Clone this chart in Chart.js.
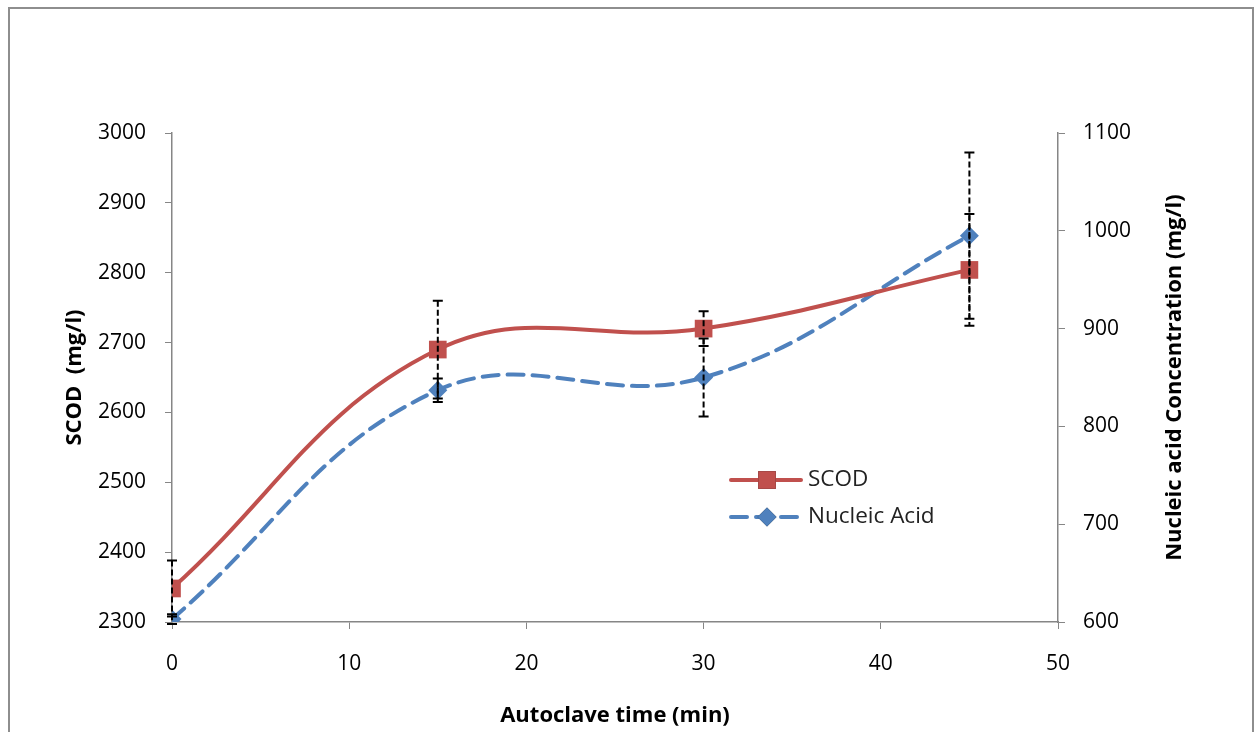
<!DOCTYPE html>
<html><head><meta charset="utf-8">
<script src="https://cdn.jsdelivr.net/npm/chart.js@4/dist/chart.umd.min.js"></script>
<style>
html,body{margin:0;padding:0;background:#fff;overflow:hidden;width:1257px;height:732px;}
#frame{position:absolute;left:8px;top:7px;width:1246px;height:780px;border:2px solid #8e8e8e;box-sizing:border-box;}
#wrap{position:absolute;left:0;top:0;width:1257px;height:732px;}
</style></head>
<body>
<div id="frame"></div>
<div id="wrap"><canvas id="c" width="1257" height="732"></canvas></div>
<script>
const times = [0, 15, 30, 45];
const scod = [2348, 2690, 2720, 2804];
const scodErr = [40, 70, 25, 80];
const nucleic = [603, 837, 850, 995];
const nucleicErr = [5, 12, 40, 85];
const xTicks = [0, 10, 20, 30, 40, 50];
const leftTicks = [2300, 2400, 2500, 2600, 2700, 2800, 2900, 3000];
const rightTicks = [600, 700, 800, 900, 1000, 1100];
const seriesNames = ['SCOD', 'Nucleic Acid'];
const xTitle = 'Autoclave time (min)';
const leftTitle = 'SCOD  (mg/l)';
const rightTitle = 'Nucleic acid Concentration (mg/l)';

const RED = '#C0504D', BLUE = '#4F81BD', AXIS = '#868686';
const FONT = "'Open Sans', 'Liberation Sans', sans-serif";
const FS = 21, TFS = 22, LFS = 22.5;

const errorBars = {
  id: 'errorBars',
  afterDatasetsDraw(chart) {
    const ctx = chart.ctx;
    const xs = chart.scales.x;
    const sets = [[scod, scodErr, chart.scales.y], [nucleic, nucleicErr, chart.scales.y1]];
    ctx.save();
    ctx.strokeStyle = '#000';
    ctx.lineWidth = 2;
    sets.forEach(([vals, errs, ys]) => {
      vals.forEach((v, i) => {
        const px = xs.getPixelForValue(times[i]);
        const top = ys.getPixelForValue(v + errs[i]);
        const bot = ys.getPixelForValue(v - errs[i]);
        ctx.setLineDash([6, 3]);
        ctx.beginPath(); ctx.moveTo(px, top); ctx.lineTo(px, bot); ctx.stroke();
        ctx.setLineDash([]);
        ctx.beginPath();
        ctx.moveTo(px - 5, top); ctx.lineTo(px + 5, top);
        ctx.moveTo(px - 5, bot); ctx.lineTo(px + 5, bot);
        ctx.stroke();
      });
    });
    ctx.restore();
  }
};

const extras = {
  id: 'extras',
  afterDraw(chart) {
    const ctx = chart.ctx;
    const ca = chart.chartArea;
    ctx.save();
    ctx.font = 'bold ' + TFS + 'px ' + FONT;
    ctx.fillStyle = '#000';
    ctx.textAlign = 'center';
    ctx.textBaseline = 'middle';
    ctx.translate(1175, (ca.top + ca.bottom) / 2);
    ctx.rotate(-Math.PI / 2);
    ctx.fillText(rightTitle, 0, 0);
    ctx.restore();

    ctx.save();
    const rows = [
      {y: 480, color: RED, dash: [], style: 'rect', r: 12.5, lw: 4},
      {y: 517, color: BLUE, dash: [16, 9], style: 'rectRot', r: 9.5, lw: 4},
    ];
    rows.forEach((row, i) => {
      ctx.strokeStyle = row.color;
      ctx.lineWidth = row.lw;
      ctx.setLineDash(row.dash);
      ctx.lineCap = 'round';
      ctx.beginPath(); ctx.moveTo(731, row.y); ctx.lineTo(801, row.y); ctx.stroke();
      ctx.setLineDash([]);
      Chart.helpers.drawPoint(ctx, {pointStyle: row.style, radius: row.r, borderWidth: 0}, 767, row.y);
      ctx.fillStyle = row.color;
      ctx.fill();
      ctx.fillStyle = '#222';
      ctx.font = LFS + 'px ' + FONT;
      ctx.textAlign = 'left';
      ctx.textBaseline = 'middle';
      ctx.fillText(seriesNames[i], 808, row.y);
    });
    ctx.restore();
  }
};

const plain = v => String(v);

new Chart(document.getElementById('c'), {
  type: 'line',
  data: {
    datasets: [
      {
        label: seriesNames[0],
        data: times.map((t, i) => ({x: t, y: scod[i]})),
        yAxisID: 'y',
        borderColor: RED, backgroundColor: RED,
        borderWidth: 4, tension: 0.4,
        pointStyle: 'rect', pointRadius: 12.5, pointBorderWidth: 0,
        pointBackgroundColor: RED
      },
      {
        label: seriesNames[1],
        data: times.map((t, i) => ({x: t, y: nucleic[i]})),
        yAxisID: 'y1',
        borderColor: BLUE, backgroundColor: BLUE,
        borderWidth: 4, borderDash: [16, 9], tension: 0.4,
        borderCapStyle: 'round',
        pointStyle: 'rectRot', pointRadius: 9.5, pointBorderWidth: 0,
        pointBackgroundColor: BLUE
      }
    ]
  },
  options: {
    responsive: false,
    animation: false,
    devicePixelRatio: 1,
    layout: {padding: {top: 133, left: 0, right: 0, bottom: 0}},
    plugins: {legend: {display: false}, tooltip: {enabled: false}},
    scales: {
      x: {
        type: 'linear', min: xTicks[0], max: xTicks[xTicks.length - 1],
        afterBuildTicks: s => { s.ticks = xTicks.map(v => ({value: v})); },
        afterFit: s => { s.height = 110; },
        grid: {drawOnChartArea: false, drawTicks: true, tickLength: 7, color: AXIS},
        border: {color: AXIS, width: 1.5},
        ticks: {font: {family: FONT, size: FS}, color: '#000', padding: 22, maxRotation: 0, callback: plain},
        title: {display: true, text: xTitle, font: {family: FONT, size: TFS, weight: 'bold'}, color: '#000', padding: {bottom: 3, top: 0}}
      },
      y: {
        type: 'linear', position: 'left', min: leftTicks[0], max: leftTicks[leftTicks.length - 1],
        afterBuildTicks: s => { s.ticks = leftTicks.map(v => ({value: v})); },
        afterFit: s => { s.width = 172; },
        grid: {drawOnChartArea: false, drawTicks: true, tickLength: 7, color: AXIS},
        border: {color: AXIS, width: 1.5},
        ticks: {font: {family: FONT, size: FS}, color: '#000', padding: 19, callback: plain},
        title: {display: true, text: leftTitle, font: {family: FONT, size: TFS, weight: 'bold'}, color: '#000', padding: {top: 62, bottom: 0}}
      },
      y1: {
        type: 'linear', position: 'right', min: rightTicks[0], max: rightTicks[rightTicks.length - 1],
        afterBuildTicks: s => { s.ticks = rightTicks.map(v => ({value: v})); },
        afterFit: s => { s.width = 199; },
        grid: {drawOnChartArea: false, drawTicks: true, tickLength: 7, color: AXIS},
        border: {color: AXIS, width: 1.5},
        ticks: {font: {family: FONT, size: FS}, color: '#000', padding: 18, callback: plain}
      }
    }
  },
  plugins: [errorBars, extras]
});
</script>
</body></html>
